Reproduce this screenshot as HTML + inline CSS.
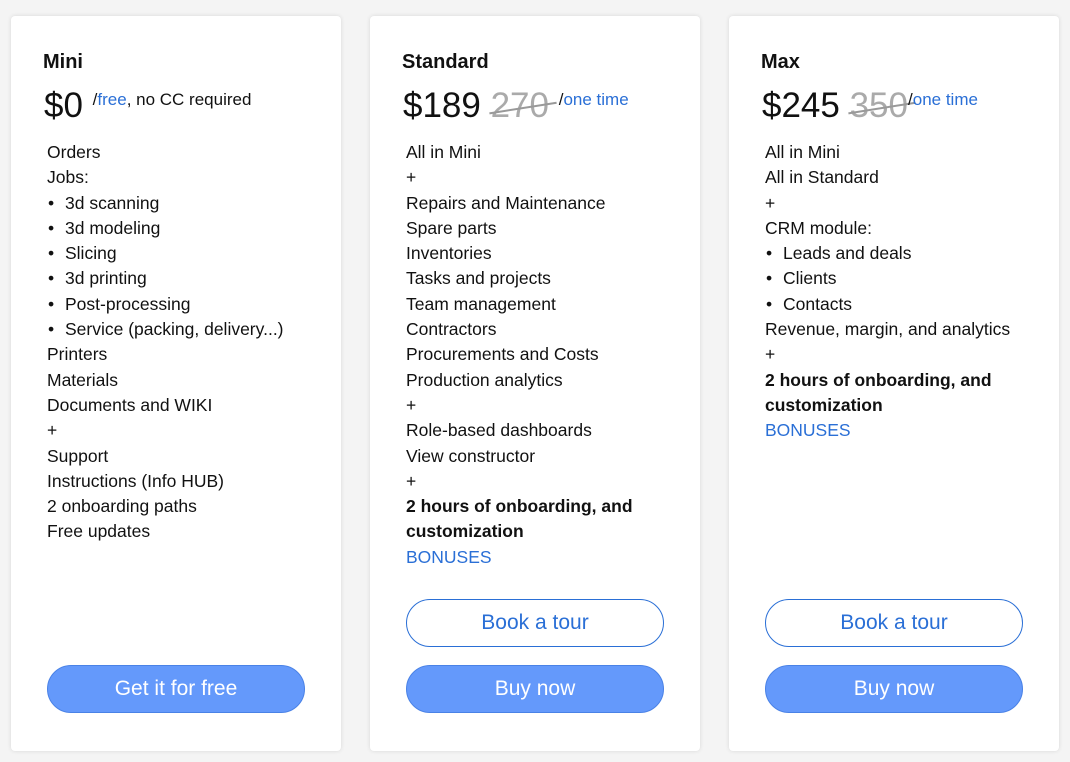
<!DOCTYPE html>
<html><head><style>
body{margin:0;width:1070px;height:762px;background:#f4f4f4;font-family:"Liberation Sans",sans-serif;position:relative;overflow:hidden}
.card{position:absolute;top:16px;width:330px;height:735px;background:#fff;border-radius:4px;box-shadow:0 0 4px rgba(0,0,0,.12)}
.t{position:absolute;left:32px;top:35px;font-size:20px;font-weight:bold;color:#111}
.p{position:absolute;left:33px;top:70px;font-size:35px;color:#111;white-space:nowrap}
.p s{color:#aaa;text-decoration:none;position:relative}
.p s:after{content:"";position:absolute;left:-2px;right:-8px;top:55%;border-top:2px solid #999;transform:rotate(-9deg)}
.p .u{font-size:17px;vertical-align:top;position:relative;top:4px}
.b{color:#2a6fd6}
.l{position:absolute;left:36px;top:124px;font-size:17.5px;line-height:25.3px;color:#111}
.l .d{padding-left:18px;position:relative}
.l .d:before{content:"•";position:absolute;left:1px}
.btn{position:absolute;left:36px;width:258px;height:48px;border-radius:25px;box-sizing:border-box;text-align:center;line-height:46px;font-size:21px}
.o{border:1.5px solid #2a6fd6;color:#2a6fd6;top:583px;background:#fff}
.f{background:#6499fb;border:1px solid #4a82e6;color:#fff;top:649px}
</style></head><body>
<div class="card" style="left:11px">
<div class="t">Mini</div>
<div class="p">$0 <span class="u">/<span class="b">free</span>, no CC required</span></div>
<div class="l">Orders<br>Jobs:<br><div class="d">3d scanning</div><div class="d">3d modeling</div><div class="d">Slicing</div><div class="d">3d printing</div><div class="d">Post-processing</div><div class="d">Service (packing, delivery...)</div>Printers<br>Materials<br>Documents and WIKI<br>+<br>Support<br>Instructions (Info HUB)<br>2 onboarding paths<br>Free updates</div>
<div class="btn f">Get it for free</div>
</div>
<div class="card" style="left:370px">
<div class="t">Standard</div>
<div class="p">$189 <s>270</s> <span class="u">/<span class="b">one time</span></span></div>
<div class="l">All in Mini<br>+<br>Repairs and Maintenance<br>Spare parts<br>Inventories<br>Tasks and projects<br>Team management<br>Contractors<br>Procurements and Costs<br>Production analytics<br>+<br>Role-based dashboards<br>View constructor<br>+<br><b>2 hours of onboarding, and<br>customization</b><br><span class="b">BONUSES</span></div>
<div class="btn o">Book a tour</div>
<div class="btn f">Buy now</div>
</div>
<div class="card" style="left:729px">
<div class="t">Max</div>
<div class="p">$245 <s>350</s><span class="u">/<span class="b">one time</span></span></div>
<div class="l">All in Mini<br>All in Standard<br>+<br>CRM module:<br><div class="d">Leads and deals</div><div class="d">Clients</div><div class="d">Contacts</div>Revenue, margin, and analytics<br>+<br><b>2 hours of onboarding, and<br>customization</b><br><span class="b">BONUSES</span></div>
<div class="btn o">Book a tour</div>
<div class="btn f">Buy now</div>
</div>
</body></html>
